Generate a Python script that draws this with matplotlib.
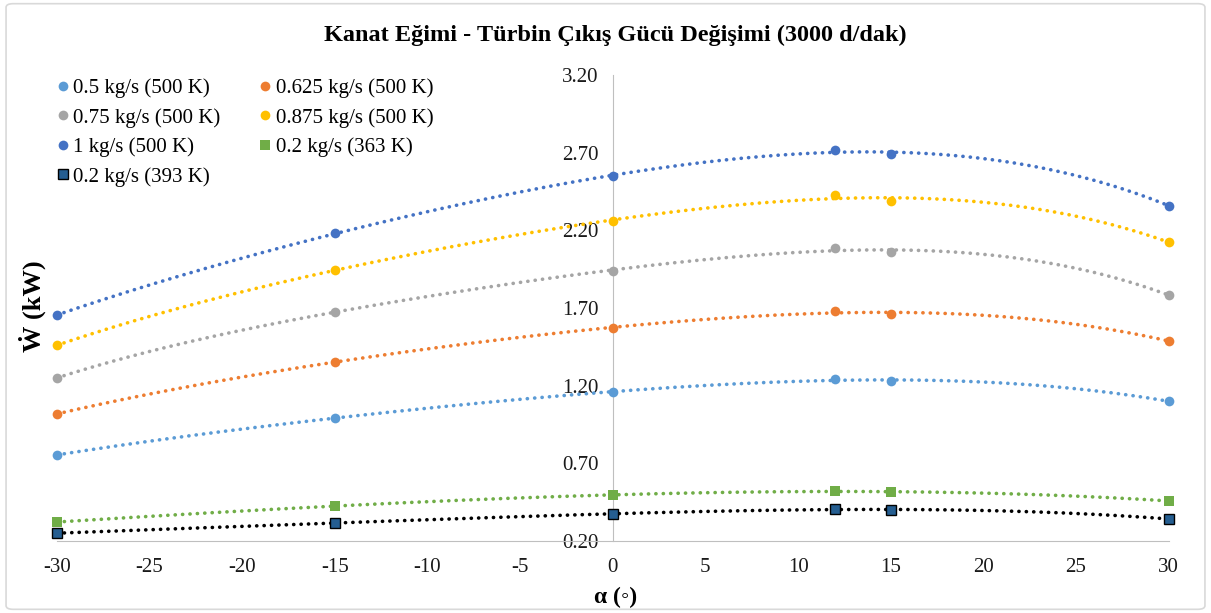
import matplotlib
matplotlib.use("Agg")
import matplotlib.pyplot as plt
from matplotlib.patches import FancyBboxPatch
import numpy as np

plt.rcParams['font.family'] = ['Liberation Serif', 'DejaVu Serif']
plt.rcParams['axes.unicode_minus'] = False

# blade pitch angles (deg)
alpha = [-30, -15, 0, 12, 15, 30]

# turbine output power (kW) for each flow case
w_05 = [0.754, 0.992, 1.159, 1.243, 1.230, 1.100]
w_0625 = [1.018, 1.353, 1.572, 1.681, 1.662, 1.488]
w_075 = [1.250, 1.675, 1.940, 2.087, 2.060, 1.784]
w_0875 = [1.460, 1.945, 2.260, 2.430, 2.390, 2.125]
w_1 = [1.655, 2.180, 2.550, 2.720, 2.690, 2.360]
w_02_363 = [0.322, 0.425, 0.496, 0.522, 0.515, 0.458]
w_02_393 = [0.250, 0.316, 0.374, 0.406, 0.400, 0.342]

labels = ['0.5 kg/s (500 K)', '0.625 kg/s (500 K)', '0.75 kg/s (500 K)',
          '0.875 kg/s (500 K)', '1 kg/s (500 K)', '0.2 kg/s (363 K)',
          '0.2 kg/s (393 K)']
series = [w_05, w_0625, w_075, w_0875, w_1, w_02_363, w_02_393]
colors = ['#5B9BD5', '#ED7D31', '#A5A5A5', '#FFC000', '#4472C4', '#70AD47', '#255E91']
line_colors = colors[:6] + ['black']
markers = ['o'] * 5 + ['s', 's']
edges = colors[:6] + ['black']

fig = plt.figure(figsize=(12.11, 6.13), dpi=100)
ax = fig.add_axes([0.047, 0.1175, 0.918, 0.760])

xs = np.linspace(-30, 30, 300)
handles = []
for vals, lab, c, lc, m, ec in zip(series, labels, colors, line_colors, markers, edges):
    # polynomial trendline (order 4)
    coef = np.polyfit(alpha, vals, 4)
    ax.plot(xs, np.polyval(coef, xs), color=lc, lw=2.6,
            linestyle=(0, (0.05, 2.0)), dash_capstyle='round', zorder=2)
    h, = ax.plot(alpha, vals, linestyle='none', marker=m, markersize=7,
                 color=c, markeredgecolor=ec, markeredgewidth=1.0 if ec == 'black' else 0,
                 label=lab, clip_on=False, zorder=3)
    handles.append(h)

ax.set_xlim(-30, 30)
ax.set_ylim(0.2, 3.2)
ax.set_xticks(np.arange(-30, 31, 5))
ax.set_yticks(np.arange(0.2, 3.21, 0.5))
ax.set_yticklabels([f'{v:.2f}' for v in np.arange(0.2, 3.21, 0.5)])

for s in ['top', 'right']:
    ax.spines[s].set_visible(False)
ax.spines['left'].set_position(('data', 0))
ax.spines['left'].set_color('#BFBFBF')
ax.spines['bottom'].set_color('#BFBFBF')
ax.tick_params(axis='both', length=0, labelsize=15, colors='#1a1a1a')
ax.tick_params(axis='x', pad=12)
ax.tick_params(axis='y', pad=10)

fig.text(0.508, 0.943, 'Kanat Eğimi - Türbin Çıkış Gücü Değişimi (3000 d/dak)',
         ha='center', va='center', fontsize=17.5, fontweight='bold')
fig.text(0.027, 0.50, 'Ẇ (kW)', rotation=90, ha='center', va='center',
         fontsize=19, fontweight='bold')
fig.text(0.508, 0.026, 'α (◦)', ha='center', va='center',
         fontsize=17, fontweight='bold')

# legend entries laid out row by row in two columns
order = [0, 2, 4, 6, 1, 3, 5]
fig.legend(handles=[handles[i] for i in order], loc='upper left',
           bbox_to_anchor=(0.045, 0.872), ncol=2, frameon=False, fontsize=15,
           handletextpad=0.1, handlelength=0.8, columnspacing=1.75,
           labelspacing=0.47, borderpad=0, borderaxespad=0)

# chart area border
fig.patches.append(FancyBboxPatch((0.005, 0.006), 0.99, 0.988,
                                  boxstyle='round,pad=0,rounding_size=0.006',
                                  transform=fig.transFigure, fill=False,
                                  edgecolor='#D9D9D9', lw=1.2))

fig.savefig('out.png', dpi=100)
